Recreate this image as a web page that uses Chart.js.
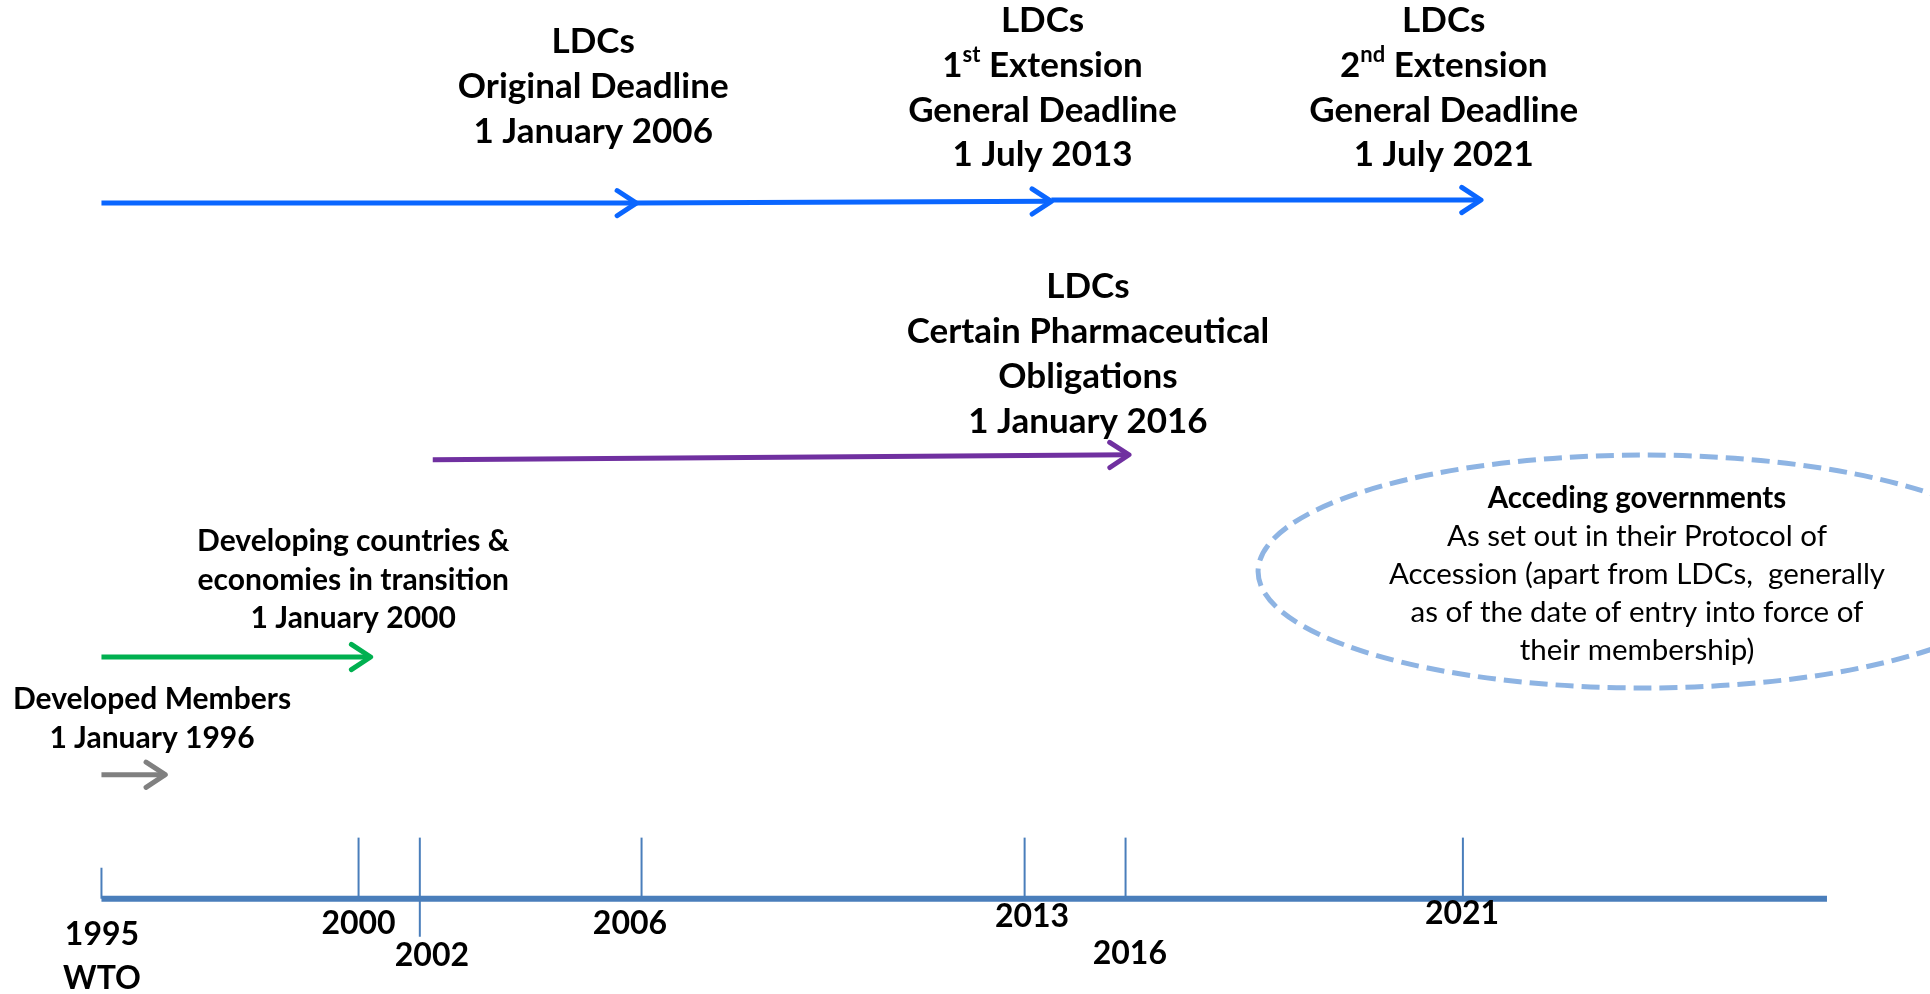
<!DOCTYPE html>
<html>
<head>
<meta charset="utf-8">
<title>TRIPS transition periods</title>
<script src="https://cdn.jsdelivr.net/npm/chart.js@4.4.0/dist/chart.umd.min.js"></script>
<style>
  html, body { margin: 0; padding: 0; background: #fff; }
  canvas { display: block; }
</style>
</head>
<body>
<canvas id="timeline" width="1930" height="994"></canvas>
<script>
// years marked on the timeline, and where each tick sits along the drawn axis (% of its length)
const years = ["1995", "2000", "2002", "2006", "2013", "2016", "2021"];
const yearPos = [0, 14.9, 18.45, 31.3, 53.5, 59.35, 78.9];
const yearNotes = ["WTO", "", "", "", "", "", ""];

// transition periods, drawn as arrows from start to end along the same axis
const periodStart = [0, 31, 55.05, 19.2, 0, 0];
const periodEnd = [31, 55.05, 79.95, 59.55, 15.6, 3.7];

// captions
const captions = [
  ["LDCs", "Original Deadline", "1 January 2006"],
  ["LDCs", "1{st} Extension", "General Deadline", "1 July 2013"],
  ["LDCs", "2{nd} Extension", "General Deadline", "1 July 2021"],
  ["LDCs", "Certain Pharmaceutical", "Obligations", "1 January 2016"],
  ["Developing countries &", "economies in transition", "1 January 2000"],
  ["Developed Members", "1 January 1996"],
];
const accessionLines = [
  "Acceding governments",
  "As set out in their Protocol of",
  "Accession (apart from LDCs,  generally",
  "as of the date of entry into force of",
  "their membership)",
];

// ---- layout & styling (chart units: x = % of axis, y = rows above the axis) ----
const FONT = 'Lato, "Open Sans", sans-serif';
const arrowRows = [[77.4, 77.4], [77.4, 77.6], [77.75, 77.75], [48.85, 49.4], [26.9, 26.9], [13.8, 13.8]];
const arrowColors = ["#0a66ff", "#0a66ff", "#0a66ff", "#7030a0", "#00b050", "#808080"];
const tickTop = [3.45, 6.8, 6.8, 6.8, 6.8, 6.8, 6.8];
const tickBottom = [0, 0, -4.23, 0, 0, 0, 0];
const yearLabelDx = [0.03, 0, 0.7, -0.67, 0.43, 0.25, -0.05];
const yearLabelY = [-4.0, -2.78, -6.34, -2.78, -2.0, -6.12, -1.67];
const captionPlace = [
  { x: 28.5, y: 95.35, step: 45, size: 35 },
  { x: 54.54, y: 97.67, step: 44.7, size: 35 },
  { x: 77.79, y: 97.67, step: 44.7, size: 35 },
  { x: 57.17, y: 68.09, step: 45.1, size: 35 },
  { x: 14.59, y: 39.73, step: 38.2, size: 30 },
  { x: 2.93, y: 22.2, step: 39.3, size: 30 },
];
const accession = { cx: 89.4, cy: 36.41, rx: 22.37, ry: 12.96, textX: 88.99, textY: 44.53, step: 38.1, size: 29.5 };
const AXIS_COLOR = "#4a7ebb";

const datasets = [];
// axis bar
datasets.push({
  data: [{ x: 0, y: 0 }, { x: 100, y: 0 }],
  borderColor: AXIS_COLOR, borderWidth: 6, borderCapStyle: "butt",
});
// year ticks
years.forEach((y, i) => {
  datasets.push({
    data: [{ x: yearPos[i], y: tickBottom[i] }, { x: yearPos[i], y: tickTop[i] }],
    borderColor: AXIS_COLOR, borderWidth: 2, borderCapStyle: "butt",
  });
});
// period arrows
periodStart.forEach((s, i) => {
  datasets.push({
    data: [{ x: s, y: arrowRows[i][0] }, { x: periodEnd[i], y: arrowRows[i][1] }],
    borderColor: arrowColors[i], borderWidth: 5, borderCapStyle: "butt",
    arrowHead: true,
  });
});

function drawRich(ctx, str, cx, cy, size, weight) {
  const parts = str.split(/(\{[^}]*\})/).filter(Boolean).map(p =>
    p[0] === "{" ? { t: p.slice(1, -1), sup: true } : { t: p, sup: false });
  const fontFor = p => `${weight} ${p.sup ? Math.round(size * 0.62) : size}px ${FONT}`;
  let total = 0;
  parts.forEach(p => { ctx.font = fontFor(p); p.w = ctx.measureText(p.t).width; total += p.w; });
  let x = cx - total / 2;
  parts.forEach(p => {
    ctx.font = fontFor(p);
    ctx.fillText(p.t, x, p.sup ? cy - size * 0.3 : cy);
    x += p.w;
  });
}

const annotations = {
  id: "annotations",
  afterDatasetsDraw(chart) {
    const { ctx, scales: { x, y } } = chart;
    ctx.save();
    // arrow heads
    chart.data.datasets.forEach((ds, i) => {
      if (!ds.arrowHead) return;
      const pts = chart.getDatasetMeta(i).data;
      const a = pts[0], b = pts[pts.length - 1];
      const ang = Math.atan2(b.y - a.y, b.x - a.x);
      const len = 23, spread = 0.58;
      ctx.strokeStyle = ds.borderColor;
      ctx.lineWidth = ds.borderWidth;
      ctx.lineCap = "round";
      ctx.lineJoin = "round";
      ctx.beginPath();
      ctx.moveTo(b.x - len * Math.cos(ang - spread), b.y - len * Math.sin(ang - spread));
      ctx.lineTo(b.x, b.y);
      ctx.lineTo(b.x - len * Math.cos(ang + spread), b.y - len * Math.sin(ang + spread));
      ctx.stroke();
    });

    ctx.fillStyle = "#000";
    ctx.textBaseline = "middle";
    // year labels
    years.forEach((yr, i) => {
      const px = x.getPixelForValue(yearPos[i] + yearLabelDx[i]);
      const py = y.getPixelForValue(yearLabelY[i]);
      drawRich(ctx, yr, px, py, 32, "bold");
      if (yearNotes[i]) drawRich(ctx, yearNotes[i], px, py + 44, 32, "bold");
    });
    // captions
    captions.forEach((lines, i) => {
      const p = captionPlace[i];
      const px = x.getPixelForValue(p.x);
      const py = y.getPixelForValue(p.y);
      lines.forEach((ln, k) => drawRich(ctx, ln, px, py + k * p.step, p.size, "bold"));
    });
    // accession ellipse
    const ecx = x.getPixelForValue(accession.cx), ecy = y.getPixelForValue(accession.cy);
    const erx = x.getPixelForValue(accession.cx + accession.rx) - ecx;
    const ery = ecy - y.getPixelForValue(accession.cy + accession.ry);
    ctx.strokeStyle = "#8eb4e3";
    ctx.lineWidth = 5;
    ctx.setLineDash([18, 8]);
    ctx.lineCap = "butt";
    ctx.beginPath();
    ctx.ellipse(ecx, ecy, erx, ery, 0, 0, Math.PI * 2);
    ctx.stroke();
    ctx.setLineDash([]);
    const tx = x.getPixelForValue(accession.textX), ty = y.getPixelForValue(accession.textY);
    accessionLines.forEach((ln, k) =>
      drawRich(ctx, ln, tx, ty + k * accession.step, accession.size, k === 0 ? "bold" : "normal"));
    ctx.restore();
  },
};

new Chart(document.getElementById("timeline"), {
  type: "line",
  data: { datasets },
  options: {
    responsive: false,
    animation: false,
    events: [],
    layout: { padding: 0 },
    elements: { point: { radius: 0 }, line: { tension: 0, fill: false } },
    datasets: { line: { clip: false } },
    plugins: { legend: { display: false }, tooltip: { enabled: false } },
    scales: {
      x: { type: "linear", min: -5.88, max: 105.97, display: false },
      y: { type: "linear", min: -10.6, max: 100, display: false },
    },
  },
  plugins: [annotations],
});
</script>
</body>
</html>
